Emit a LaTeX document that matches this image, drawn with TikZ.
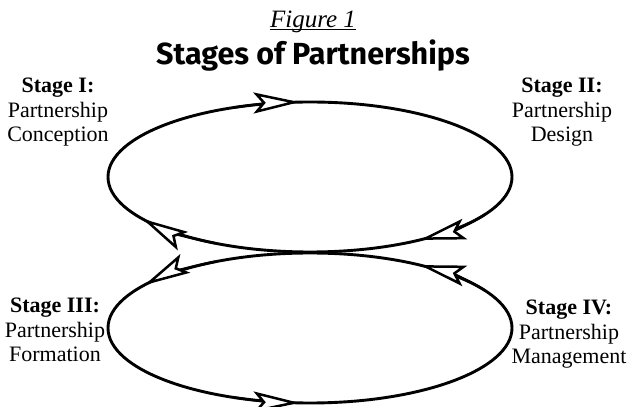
\documentclass[tikz,border=0pt]{standalone}
\usepackage{fontspec}
\setmainfont{Liberation Serif}
\newfontfamily\titlefont{Fira Sans}
\usetikzlibrary{arrows.meta}
\tikzset{
  cycle line/.style={
    line width=2.9pt,        % ellipse thickness
  },
  cycle arrow/.style={
    line width=2.5pt,
    -{Stealth[length=46pt, width=21pt, inset=9pt, fill=white]}, % open barbed tip
  },
  stage label/.style={
    align=center, inner sep=0pt, anchor=north,
    font=\fontsize{22}{24.5}\selectfont,
  }
}

\begin{document}
\begin{tikzpicture}[x=1pt, y=1pt]
    \useasboundingbox (0,0) rectangle (627,407);
    % radii of both cycles
    \def\rx{202}
    \def\ry{75}

    \coordinate (upper) at (310,230);
    \coordinate (lower) at (310,79);

    % the two cycles
    \draw[cycle line] (upper) ellipse[x radius=\rx, y radius=\ry];
    \draw[cycle line] (lower) ellipse[x radius=\rx, y radius=\ry];

    % arrows on the upper cycle (clockwise)
    \draw[cycle arrow] (upper) ++(112:202 and 75) arc[start angle=112, end angle=93, x radius=\rx, y radius=\ry];
    \draw[cycle arrow] (upper) ++(-30:202 and 75) arc[start angle=-30, end angle=-57, x radius=\rx, y radius=\ry];
    \draw[cycle arrow] (upper) ++(-118:202 and 75) arc[start angle=-118, end angle=-146, x radius=\rx, y radius=\ry];

    % arrows on the lower cycle (counter-clockwise)
    \draw[cycle arrow] (lower) ++(118:202 and 75) arc[start angle=118, end angle=145, x radius=\rx, y radius=\ry];
    \draw[cycle arrow] (lower) ++(-112:202 and 75) arc[start angle=-112, end angle=-93, x radius=\rx, y radius=\ry];
    \draw[cycle arrow] (lower) ++(30:202 and 75) arc[start angle=30, end angle=57, x radius=\rx, y radius=\ry];

    % headings
    \node[font=\fontsize{25}{30}\selectfont, anchor=base] (figno) at (313,379) {\underline{\smash{\textit{Figure 1}}}};
    \node[font=\titlefont\bfseries\fontsize{30.5}{36}\selectfont, anchor=base] (title) at (313,342) {Stages of Partnerships};

    % stage labels
    \node[stage label] (conception) at (58,329) {\textbf{Stage I:}\\Partnership\\Conception};
    \node[stage label] (design) at (562,329) {\textbf{Stage II:}\\Partnership\\Design};
    \node[stage label] (formation) at (55,109) {\textbf{Stage III:}\\Partnership\\Formation};
    \node[stage label] (management) at (569,107) {\textbf{Stage IV:}\\Partnership\\Management};
\end{tikzpicture}
\end{document}
